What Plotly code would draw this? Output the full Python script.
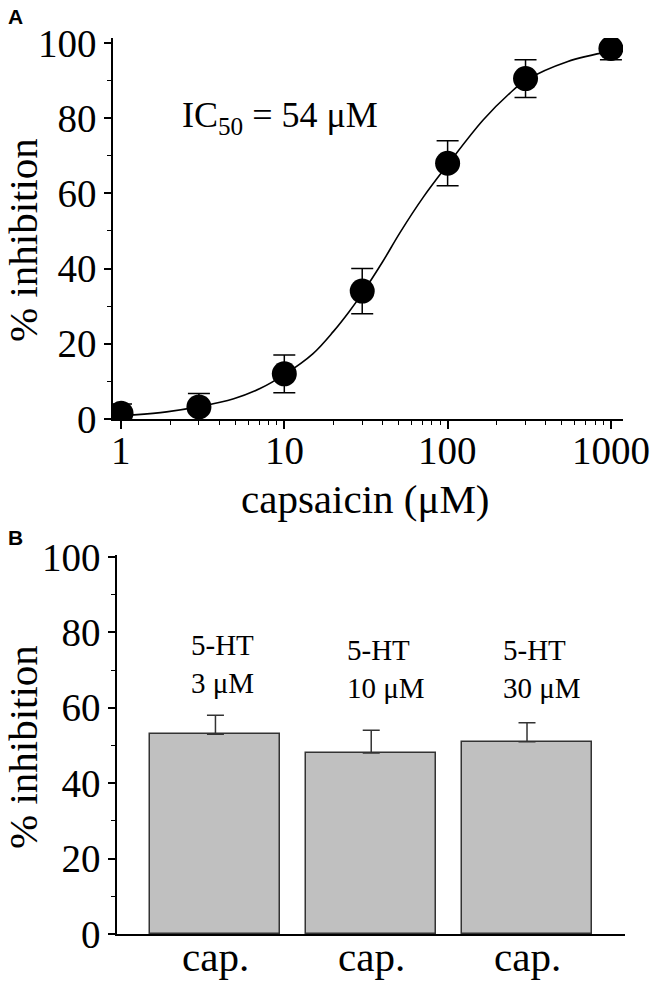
import math
import plotly.graph_objects as go

# ---------------- data ----------------
# Panel A: concentration-response
conc = [1, 3, 10, 30, 100, 300, 1000]
inhib = [1.5, 3.2, 12, 34, 68, 90.5, 98.5]
inhib_err = [2.5, 3.6, 5, 6, 6, 5, 3]

# fitted curve
curve_x = [1, 1.2, 1.9, 3, 4.9, 7.1, 10, 15, 20, 25, 30, 40, 51, 71, 100, 165, 240, 300, 540, 1000]
curve_y = [0.9, 1.1, 1.9, 3.3, 5.4, 8.1, 11.8, 17.4, 23.3, 28.6, 33.4, 41.8, 49.5, 59, 67.6, 79.5, 86.6, 90.0, 95, 97.8]

x_ticks = [1, 10, 100, 1000]
x_ticklabels = ["1", "10", "100", "1000"]
x_minor = [2, 3, 4, 5, 6, 7, 8, 9, 20, 30, 40, 50, 60, 70, 80, 90,
           200, 300, 400, 500, 600, 700, 800, 900]

# Panel B: bars
bar_labels = ["cap.", "cap.", "cap."]
bar_vals = [53, 48, 51]
bar_err = [5, 6, 5]
bar_notes = ["5-HT<br>3 μM", "5-HT<br>10 μM", "5-HT<br>30 μM"]

y_ticks = [0, 20, 40, 60, 80, 100]

# ---------------- geometry helpers ----------------
W, H = 653, 985
def px(x):
    return x / W
def py(y):
    return 1 - y / H

SERIF = "Liberation Serif"
TICK_SIZE = 39
TITLE_SIZE = 41

fig = go.Figure()

# Panel A
fig.add_trace(go.Scatter(
    x=curve_x, y=curve_y, mode="lines",
    line=dict(color="black", width=1.6, shape="spline", smoothing=1.0),
    xaxis="x", yaxis="y", hoverinfo="skip", showlegend=False))
fig.add_trace(go.Scatter(
    x=conc, y=inhib, mode="markers", cliponaxis=True,
    marker=dict(color="black", size=25),
    error_y=dict(type="data", array=inhib_err, visible=True,
                 color="black", thickness=1.5, width=11),
    xaxis="x", yaxis="y", showlegend=False))

# Panel B
bar_x = list(range(len(bar_vals)))
fig.add_trace(go.Bar(
    x=bar_x, y=bar_vals, width=0.835,
    marker=dict(color="#c0c0c0", line=dict(color="#333333", width=1.5)),
    error_y=dict(type="data", symmetric=False, array=bar_err,
                 arrayminus=[0] * len(bar_err), visible=True,
                 color="#333333", thickness=1.5, width=8.5),
    xaxis="x2", yaxis="y2", showlegend=False))

def axis_common(size=TICK_SIZE):
    return dict(showgrid=False, zeroline=False, showline=True, automargin=False,
                linecolor="black", linewidth=1.5, tickcolor="black",
                tickwidth=1.5, tickfont=dict(family=SERIF, size=size, color="black"))

fig.update_layout(
    width=W, height=H,
    margin=dict(l=0, r=0, t=0, b=0, autoexpand=False),
    font=dict(family=SERIF, color="black"),
    paper_bgcolor="white", plot_bgcolor="white",
    bargap=0,
    xaxis=dict(**axis_common(), type="log", range=[-0.049, 3.074],
               domain=[px(113), px(623)], anchor="y",
               tickmode="array", tickvals=x_ticks, showticklabels=False,
               ticks="outside", ticklen=8,
               minor=dict(tickmode="array", tickvals=x_minor, ticks="outside",
                          ticklen=4, tickwidth=1.2, tickcolor="black", showgrid=False)),
    yaxis=dict(**axis_common(), range=[0, 101.3],
               domain=[py(419), py(38)], anchor="x",
               tickmode="array", tickvals=y_ticks,
               ticks="outside", ticklen=7,
               minor=dict(dtick=10, tick0=0, ticks="outside", ticklen=4,
                          tickwidth=1.2, tickcolor="black", showgrid=False)),
    xaxis2=dict(**axis_common(), range=[-0.632, 2.629],
                domain=[px(117), px(625)], anchor="y2",
                tickmode="array", tickvals=bar_x, showticklabels=False, ticks=""),
    yaxis2=dict(**axis_common(), range=[0, 100.5],
                domain=[py(934), py(555)], anchor="x2",
                tickmode="array", tickvals=y_ticks,
                ticks="outside", ticklen=7,
                minor=dict(dtick=10, tick0=0, ticks="outside", ticklen=4,
                           tickwidth=1.2, tickcolor="black", showgrid=False)),
)

annotations = [
    # panel letters
    dict(text="<b>A</b>", x=px(6), y=py(16.5), xref="paper", yref="paper",
         xanchor="left", yanchor="middle", showarrow=False,
         font=dict(family="Liberation Sans", size=21, color="black")),
    dict(text="<b>B</b>", x=px(6), y=py(537.5), xref="paper", yref="paper",
         xanchor="left", yanchor="middle", showarrow=False,
         font=dict(family="Liberation Sans", size=21, color="black")),
    # axis titles
    dict(text="capsaicin (μM)", x=px(365), y=py(499), xref="paper", yref="paper",
         xanchor="center", yanchor="middle", showarrow=False,
         font=dict(family=SERIF, size=TITLE_SIZE, color="black")),
    dict(text="% inhibition", x=px(23), y=py(240), xref="paper", yref="paper",
         xanchor="center", yanchor="middle", showarrow=False, textangle=-90,
         font=dict(family=SERIF, size=TITLE_SIZE, color="black")),
    dict(text="% inhibition", x=px(23), y=py(747), xref="paper", yref="paper",
         xanchor="center", yanchor="middle", showarrow=False, textangle=-90,
         font=dict(family=SERIF, size=TITLE_SIZE, color="black")),
    # IC50 label
    dict(text="IC<sub>50</sub> = 54 μM", x=px(180), y=py(117), xref="paper", yref="paper",
         xanchor="left", yanchor="middle", showarrow=False,
         font=dict(family=SERIF, size=36, color="black")),
]
# x tick labels of panel A (placed as text under each major tick)
for v, lab in zip(x_ticks, x_ticklabels):
    annotations.append(dict(text=lab, x=math.log10(v), y=py(450), xref="x", yref="paper",
                            xanchor="center", yanchor="middle", showarrow=False,
                            font=dict(family=SERIF, size=TICK_SIZE, color="black")))
# category labels of panel B
for i, lab in enumerate(bar_labels):
    annotations.append(dict(text=lab, x=bar_x[i], y=py(957), xref="x2", yref="paper",
                            xanchor="center", yanchor="middle", showarrow=False,
                            font=dict(family=SERIF, size=TITLE_SIZE, color="black")))
# 5-HT notes above bars
note_y = [71.6, 70.3, 70.3]
for i, note in enumerate(bar_notes):
    annotations.append(dict(text=note, x=bar_x[i], y=note_y[i], xref="x2", yref="y2",
                            xanchor="left", yanchor="middle", xshift=-26, align="left",
                            showarrow=False,
                            font=dict(family=SERIF, size=29, color="black")))
fig.update_layout(annotations=annotations)

fig.write_html("out.html", config={"displayModeBar": False},
               post_script="document.body.style.margin='0';document.body.style.padding='0';")
